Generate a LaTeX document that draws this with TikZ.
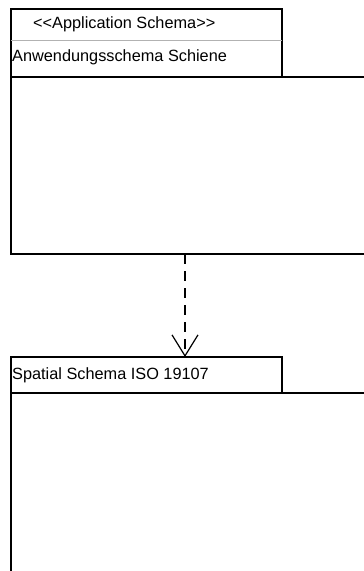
\documentclass[tikz,border=0pt]{standalone}
\usepackage{fontspec}
\newfontfamily\umlfont{Liberation Sans}
\usetikzlibrary{positioning,arrows.meta}

\begin{document}
\begin{tikzpicture}[
  x=1pt,y=-1pt,
  font=\umlfont\fontsize{16.3}{19}\selectfont,
  pkg/.style={draw,line width=1.6pt,fill=white,inner sep=0pt,outer sep=0pt,anchor=north west},
  tab/.style={pkg,minimum width=271pt},
  body/.style={pkg,minimum width=390pt},
  txt/.style={inner sep=0pt,anchor=west},
  dep/.style={line width=1.2pt,dash pattern=on 10pt off 7pt,-{Straight Barb[length=21pt,width=26pt]}},
]
  \clip (0,0) rectangle (364,571);

  % application schema package
  \node[tab,minimum height=68pt] (apptab) at (11,9) {};
  \node[body,minimum height=177pt] (appbody) at (apptab.south west) {};
  \draw[gray!60,line width=0.8pt] ([yshift=-31pt]apptab.north west) -- ([yshift=-31pt]apptab.north east);
  \node[txt] (stereo) at ([xshift=22pt,yshift=-15.5pt]apptab.north west) {<{}<Application Schema>{}>};
  \node[txt] (appname) at ([xshift=1pt,yshift=-48.5pt]apptab.north west) {Anwendungsschema Schiene};

  % spatial schema package
  \node[tab,minimum height=36pt] (spattab) at ([yshift=-103pt]appbody.south west) {};
  \node[body,minimum height=220pt] (spatbody) at (spattab.south west) {};
  \node[txt] (spatname) at ([xshift=1pt]spattab.west) {Spatial Schema ISO 19107};

  \draw[dep] ([xshift=174pt]appbody.south west) -- ([xshift=174pt]spattab.north west);
\end{tikzpicture}
\end{document}
